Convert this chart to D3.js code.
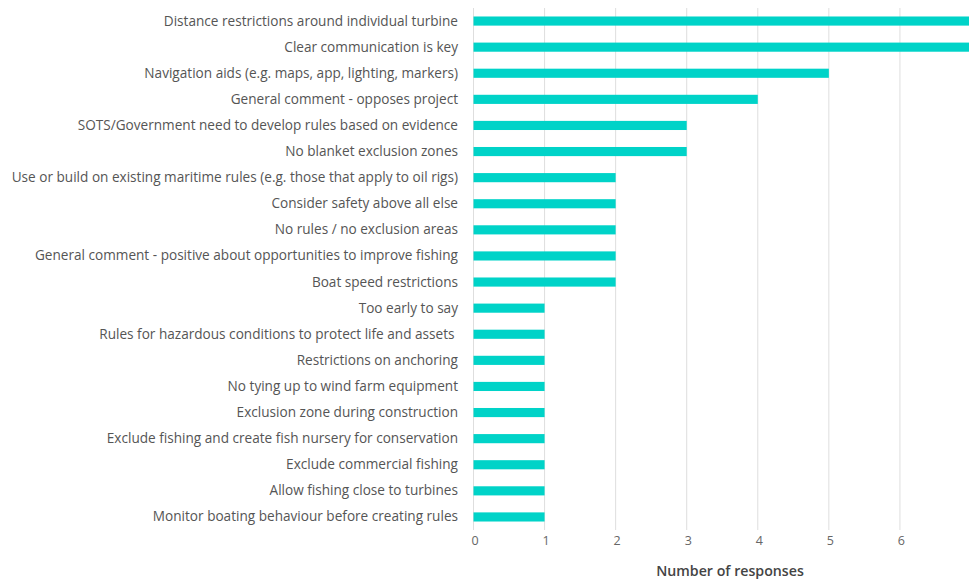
<!DOCTYPE html>
<html><head><meta charset="utf-8">
<script src="https://cdn.jsdelivr.net/npm/d3@7/dist/d3.min.js"></script>
<style>body{margin:0;background:#fff}svg{display:block}text{font-family:"Open Sans",sans-serif}</style>
</head><body><svg id="c" width="969" height="580"></svg>
<script>
const categories = [
 "Distance restrictions around individual turbine",
 "Clear communication is key",
 "Navigation aids (e.g. maps, app, lighting, markers)",
 "General comment - opposes project",
 "SOTS/Government need to develop rules based on evidence",
 "No blanket exclusion zones",
 "Use or build on existing maritime rules (e.g. those that apply to oil rigs)",
 "Consider safety above all else",
 "No rules / no exclusion areas",
 "General comment - positive about opportunities to improve fishing",
 "Boat speed restrictions",
 "Too early to say",
 "Rules for hazardous conditions to protect life and assets ",
 "Restrictions on anchoring",
 "No tying up to wind farm equipment",
 "Exclusion zone during construction",
 "Exclude fishing and create fish nursery for conservation",
 "Exclude commercial fishing",
 "Allow fishing close to turbines",
 "Monitor boating behaviour before creating rules"
];
const values = [7,7,5,4,3,3,2,2,2,2,2,1,1,1,1,1,1,1,1,1];
const xTicks = [0,1,2,3,4,5,6];
const axisTitle = "Number of responses";

const svg = d3.select("#c");
const x = d3.scaleLinear().domain([0,7]).range([473.5, 971]);
const y = d3.scaleBand().domain(categories).range([8,530]).paddingInner(0.65).paddingOuter(0.325);

svg.append("g").selectAll("line").data(xTicks).join("line")
  .attr("x1",d=>x(d)).attr("x2",d=>x(d)).attr("y1",8).attr("y2",530)
  .attr("stroke","#dedede").attr("stroke-width",1);

svg.append("g").selectAll("rect").data(values).join("rect")
  .attr("x",x(0)).attr("y",(d,i)=>y(categories[i]))
  .attr("width",d=>x(d)-x(0)).attr("height",y.bandwidth())
  .attr("fill","#00d3c8");

svg.append("g").selectAll("text").data(categories).join("text")
  .attr("x",458).attr("y",d=>y(d)+y.bandwidth()/2).attr("dy","0.33em")
  .attr("text-anchor","end").attr("fill","#555").attr("font-size",13.6)
  .style("white-space","pre").text(d=>d);

svg.append("g").selectAll("text").data(xTicks).join("text")
  .attr("x",d=>x(d)+1.5).attr("y",541).attr("dy","0.35em")
  .attr("text-anchor","middle").attr("fill","#666").attr("font-size",12.5).text(d=>d);

svg.append("text").attr("x",730).attr("y",571).attr("dy","0.35em")
  .attr("text-anchor","middle").attr("fill","#444").attr("font-size",14.2).attr("font-weight",600)
  .text(axisTitle);
</script></body></html>
